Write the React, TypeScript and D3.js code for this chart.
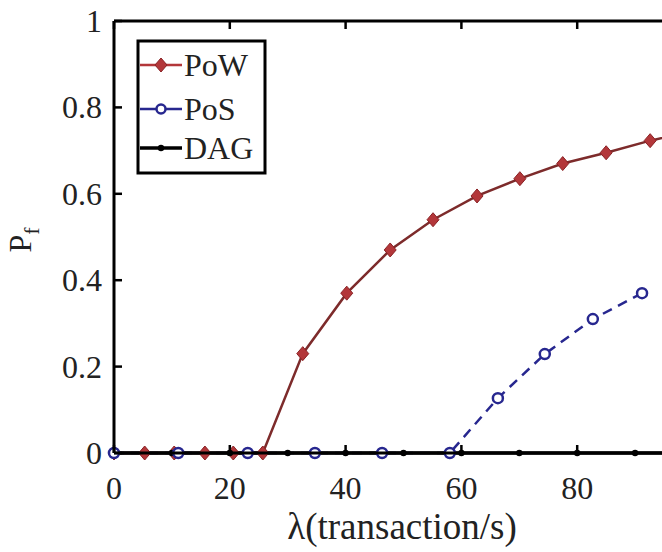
import React from "react";
import * as d3 from "d3";

// lambda (transaction/s) and failure probability
const powX = [0, 5.3, 10.4, 15.7, 20.6, 25.7, 32.6, 40.2, 47.7, 55.1, 62.7, 70.1, 77.5, 85, 92.6, 100.1];
const powY = [0, 0, 0, 0, 0, 0, 0.23, 0.37, 0.47, 0.54, 0.595, 0.635, 0.67, 0.695, 0.723, 0.745];

const posX = [0, 11.1, 23.1, 34.7, 46.3, 58.0, 66.3, 74.4, 82.7, 91.2];
const posY = [0, 0, 0, 0, 0, 0, 0.127, 0.229, 0.31, 0.37];

const dagX = [0, 10, 20, 30, 40, 50, 60, 70, 80, 90, 100];
const dagY = [0, 0, 0, 0, 0, 0, 0, 0, 0, 0, 0];

const xTicks = [0, 20, 40, 60, 80];
const yTicks = [0, 0.2, 0.4, 0.6, 0.8, 1];
const legendNames = ["PoW", "PoS", "DAG"];

const W = 662;
const H = 552;
const FONT = "Liberation Serif, DejaVu Serif, Times New Roman, serif";

const POW_LINE = "#7d2b2b";
const POW_MARK = "#b3373a";
const POS_COLOR = "#27278f";

const x = d3.scaleLinear().domain([0, 100]).range([114, 693]);
const y = d3.scaleLinear().domain([0, 1]).range([453, 21]);

const line = d3
  .line<[number, number]>()
  .x((d) => x(d[0]))
  .y((d) => y(d[1]));

const zip = (xs: number[], ys: number[]) => xs.map((v, i) => [v, ys[i]] as [number, number]);

const diamond = (cx: number, cy: number) =>
  `M${cx},${cy - 7}L${cx + 6},${cy}L${cx},${cy + 7}L${cx - 6},${cy}Z`;

const txt = { fontFamily: FONT };

export default function App() {
  const pow = zip(powX, powY);
  const pos = zip(posX, posY);
  const dag = zip(dagX, dagY);

  const legX0 = 140;
  const legX1 = 182;
  const legYs = [65, 109, 148];

  return (
    <svg
      width={W}
      height={H}
      style={{ position: "absolute", left: 0, top: 0, background: "#fff", fontFamily: FONT }}
    >
      {/* series */}
      <path d={line(pow) || ""} fill="none" stroke={POW_LINE} strokeWidth={2.5} />
      <path
        d={line(pos) || ""}
        fill="none"
        stroke={POS_COLOR}
        strokeWidth={2.5}
        strokeDasharray="10,7"
      />
      <path d={line(dag) || ""} fill="none" stroke="#000" strokeWidth={3.5} />

      {pow.map((d, i) => (
        <path key={"pw" + i} d={diamond(x(d[0]), y(d[1]))} fill={POW_MARK} stroke="#8a2225" strokeWidth={1} />
      ))}
      {dag.map((d, i) => (
        <circle key={"dg" + i} cx={x(d[0])} cy={y(d[1])} r={3.2} fill="#000" />
      ))}
      {pos.map((d, i) => (
        <circle
          key={"ps" + i}
          cx={x(d[0])}
          cy={y(d[1])}
          r={5}
          fill="#fff"
          stroke={POS_COLOR}
          strokeWidth={2.5}
        />
      ))}

      {/* axes frame */}
      <line x1={x(0)} x2={x(0)} y1={y(1)} y2={y(0)} stroke="#000" strokeWidth={3} />
      <line x1={x(0)} x2={W + 40} y1={y(1)} y2={y(1)} stroke="#000" strokeWidth={3} />
      <line x1={x(0)} x2={W + 40} y1={y(0)} y2={y(0)} stroke="#000" strokeWidth={3} />

      {/* y ticks */}
      {yTicks.map((t) => (
        <g key={"yt" + t}>
          <line x1={x(0)} x2={x(0) + 8} y1={y(t)} y2={y(t)} stroke="#000" strokeWidth={2.5} />
          <text
            x={102}
            y={y(t)}
            textAnchor="end"
            dominantBaseline="central"
            fontSize={32}
            fill="#222"
            style={txt}
          >
            {String(t)}
          </text>
        </g>
      ))}

      {/* x ticks */}
      {[...xTicks, 100].map((t) => (
        <g key={"xtk" + t}>
          <line x1={x(t)} x2={x(t)} y1={y(0)} y2={y(0) - 8} stroke="#000" strokeWidth={2.5} />
          <line x1={x(t)} x2={x(t)} y1={y(1)} y2={y(1) + 8} stroke="#000" strokeWidth={2.5} />
        </g>
      ))}
      {xTicks.map((t) => (
        <text key={"xt" + t} x={x(t)} y={499} textAnchor="middle" fontSize={32} fill="#222" style={txt}>
          {t}
        </text>
      ))}

      {/* axis labels */}
      <text x={402} y={539} textAnchor="middle" fontSize={37} fill="#222" style={txt}>
        λ(transaction/s)
      </text>
      <text
        transform="translate(31,240) rotate(-90)"
        textAnchor="middle"
        fontSize={32}
        fill="#222"
        style={txt}
      >
        P
        <tspan fontSize={22} dy={8}>
          f
        </tspan>
      </text>

      {/* legend */}
      <rect x={138} y={41} width={127} height={132} fill="#fff" stroke="#000" strokeWidth={3} />
      {legendNames.map((name, i) => {
        const ly = legYs[i];
        const cx = (legX0 + legX1) / 2;
        return (
          <g key={"lg" + name}>
            {i === 0 && (
              <>
                <line x1={legX0} x2={legX1} y1={ly} y2={ly} stroke={POW_MARK} strokeWidth={2.5} />
                <path d={diamond(cx, ly)} fill={POW_MARK} stroke="#8a2225" strokeWidth={1} />
              </>
            )}
            {i === 1 && (
              <>
                <line x1={legX0} x2={legX1} y1={ly} y2={ly} stroke={POS_COLOR} strokeWidth={2.5} />
                <circle cx={cx} cy={ly} r={4.5} fill="#fff" stroke={POS_COLOR} strokeWidth={2.5} />
              </>
            )}
            {i === 2 && (
              <>
                <line x1={legX0} x2={legX1} y1={ly} y2={ly} stroke="#000" strokeWidth={3.5} />
                <circle cx={cx} cy={ly} r={3.2} fill="#000" />
              </>
            )}
            <text x={184} y={ly} dominantBaseline="central" fontSize={32} fill="#222" style={txt}>
              {name}
            </text>
          </g>
        );
      })}
    </svg>
  );
}
